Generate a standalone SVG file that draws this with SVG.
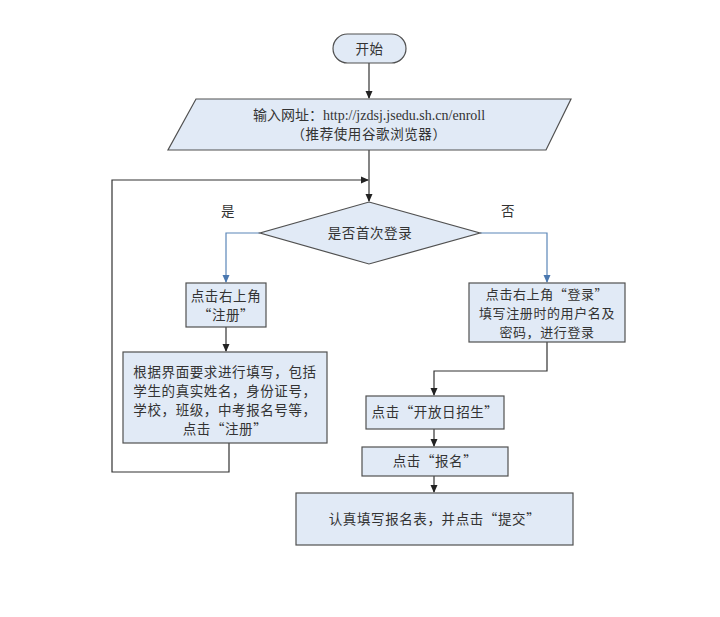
<svg xmlns="http://www.w3.org/2000/svg" width="720" height="617" viewBox="0 0 720 617">
<defs>
<style>
.n{fill:#e1eaf6;stroke:#505050;stroke-width:1.2}
.t{font-family:"Noto Sans CJK SC","Liberation Serif",serif;font-size:13.5px;letter-spacing:0.6px;fill:#333;text-anchor:middle}
.s{font-size:13px}
.u{font-family:"Liberation Serif","Noto Sans CJK SC",serif;font-size:14px;fill:#333;text-anchor:middle}
.c{fill:none;stroke:#333;stroke-width:1.2}
.b{fill:none;stroke:#5b86b8;stroke-width:1.2}
</style>
<marker id="ak" markerWidth="8" markerHeight="8" refX="7" refY="4" orient="auto" markerUnits="userSpaceOnUse"><path d="M0,0.5 L8,4 L0,7.5 Z" fill="#222"/></marker>
<marker id="ab" markerWidth="8" markerHeight="8" refX="7" refY="4" orient="auto" markerUnits="userSpaceOnUse"><path d="M0,0.5 L8,4 L0,7.5 Z" fill="#4a78b0"/></marker>
</defs>
<rect width="720" height="617" fill="#fff"/>
<g id="connectors">
<path class="c" d="M369,63 V98" marker-end="url(#ak)"/>
<path class="c" d="M369,150 V201" marker-end="url(#ak)"/>
<path class="c" d="M229,443 V472 H112 V180 H368" marker-end="url(#ak)"/>
<path class="b" d="M260,233 H226 V282" marker-end="url(#ab)"/>
<path class="b" d="M480,233 H547 V282" marker-end="url(#ab)"/>
<path class="c" d="M226,327 V351" marker-end="url(#ak)"/>
<path class="c" d="M547,342 V371 H434 V395" marker-end="url(#ak)"/>
<path class="c" d="M434,429 V446" marker-end="url(#ak)"/>
<path class="c" d="M434,476 V492" marker-end="url(#ak)"/>
<text class="t" x="228" y="216">是</text>
<text class="t" x="508" y="216">否</text>
</g>
<g id="start">
<rect class="n" x="333" y="34" width="73" height="29" rx="14.5"/>
<text class="t" x="369.5" y="53.5">开始</text>
</g>
<g id="input">
<polygon class="n" points="196,99 571,99 546,150 168,150"/>
<text class="u" x="369" y="120">输入网址：http://jzdsj.jsedu.sh.cn/enroll</text>
<text class="t" x="369" y="139">（推荐使用谷歌浏览器）</text>
</g>
<g id="decision">
<polygon class="n" points="369,202 480,233 369,264 260,233"/>
<text class="t" x="370" y="238">是否首次登录</text>
</g>
<g id="register-click">
<rect class="n" x="186" y="283" width="80" height="44"/>
<text class="t" x="226" y="301">点击右上角</text>
<text class="t" x="226" y="320">“注册”</text>
</g>
<g id="register-fill">
<rect class="n" x="123" y="352" width="204" height="91"/>
<text class="t" x="225" y="377">根据界面要求进行填写，包括</text>
<text class="t" x="225" y="396">学生的真实姓名，身份证号，</text>
<text class="t" x="225" y="415">学校，班级，中考报名号等，</text>
<text class="t" x="225" y="434">点击“注册”</text>
</g>
<g id="login">
<rect class="n" x="469" y="283" width="156" height="59"/>
<text class="t s" x="547" y="299">点击右上角“登录”</text>
<text class="t s" x="547" y="318">填写注册时的用户名及</text>
<text class="t s" x="547" y="337">密码，进行登录</text>
</g>
<g id="open-day">
<rect class="n" x="366" y="396" width="138" height="33"/>
<text class="t" x="435" y="417">点击“开放日招生”</text>
</g>
<g id="apply">
<rect class="n" x="362" y="447" width="146" height="29"/>
<text class="t" x="435" y="466">点击“报名”</text>
</g>
<g id="submit">
<rect class="n" x="296" y="493" width="277" height="52"/>
<text class="t" x="434.5" y="524">认真填写报名表，并点击“提交”</text>
</g>
</svg>
